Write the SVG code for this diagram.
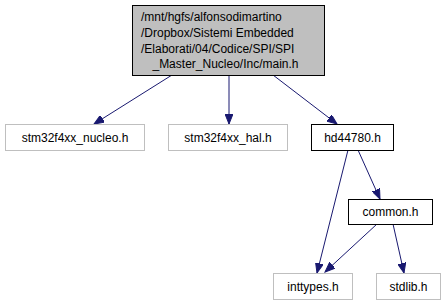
<svg xmlns="http://www.w3.org/2000/svg" width="445" height="305" viewBox="0 0 445 305">
  <style>
    text { font-family: "Liberation Sans", Arial, sans-serif; font-size: 12px; fill: #000; }
    .ext rect { fill: #fff; stroke: #bfbfbf; stroke-width: 1; }
    .loc rect { fill: #fff; stroke: #000; stroke-width: 1; }
    .root rect { fill: #bfbfbf; stroke: #000; stroke-width: 1; }
    .edge { fill: none; stroke: #191970; stroke-width: 1; marker-end: url(#arrow); }
  </style>
  <defs>
    <marker id="arrow" markerUnits="userSpaceOnUse" markerWidth="11" markerHeight="8" refX="10" refY="4" orient="auto">
      <path d="M0,0 L10,4 L0,8 Z" fill="#191970" stroke="#191970"/>
    </marker>
  </defs>
  <rect width="445" height="305" fill="#fff"/>

  <g id="connectors">
    <line class="edge" x1="172" y1="75" x2="94" y2="124"/>
    <line class="edge" x1="229" y1="75" x2="229" y2="124"/>
    <line class="edge" x1="273" y1="75" x2="337" y2="124"/>
    <line class="edge" x1="348" y1="150" x2="317" y2="273"/>
    <line class="edge" x1="358" y1="150" x2="380" y2="199"/>
    <line class="edge" x1="377" y1="224" x2="325" y2="272"/>
    <line class="edge" x1="393" y1="224" x2="404" y2="273"/>
  </g>

  <g id="node-main" class="root">
    <rect x="132.5" y="5.5" width="192" height="70"/>
    <text x="141" y="21">/mnt/hgfs/alfonsodimartino</text>
    <text x="141" y="37">/Dropbox/Sistemi Embedded</text>
    <text x="141" y="53">/Elaborati/04/Codice/SPI/SPI</text>
    <text x="225.5" y="68" text-anchor="middle">_Master_Nucleo/Inc/main.h</text>
  </g>

  <g id="node-nucleo" class="ext">
    <rect x="5.5" y="124.5" width="139" height="26"/>
    <text x="75" y="141.5" text-anchor="middle">stm32f4xx_nucleo.h</text>
  </g>

  <g id="node-hal" class="ext">
    <rect x="168.5" y="124.5" width="119" height="26"/>
    <text x="228" y="141.5" text-anchor="middle">stm32f4xx_hal.h</text>
  </g>

  <g id="node-hd44780" class="loc">
    <rect x="311.5" y="124.5" width="82" height="26"/>
    <text x="352.5" y="141.5" text-anchor="middle">hd44780.h</text>
  </g>

  <g id="node-common" class="loc">
    <rect x="348.5" y="199.5" width="84" height="25"/>
    <text x="390.5" y="216" text-anchor="middle">common.h</text>
  </g>

  <g id="node-inttypes" class="ext">
    <rect x="273.5" y="273.5" width="79" height="26"/>
    <text x="313" y="290.5" text-anchor="middle">inttypes.h</text>
  </g>

  <g id="node-stdlib" class="ext">
    <rect x="376.5" y="273.5" width="64" height="26"/>
    <text x="408.5" y="290.5" text-anchor="middle">stdlib.h</text>
  </g>
</svg>
